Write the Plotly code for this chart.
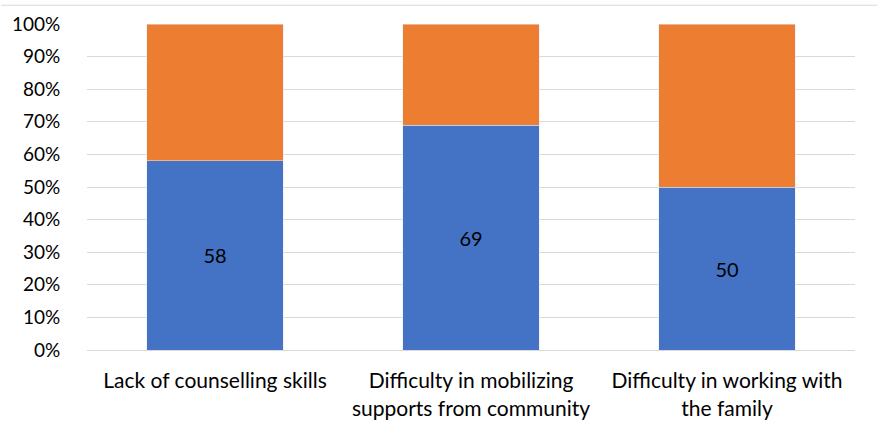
import plotly.graph_objects as go

categories = ["Lack of counselling skills",
              "Difficulty in mobilizing<br>supports from community",
              "Difficulty in working with<br>the family"]
yes_values = [58, 69, 50]
no_values = [42, 31, 50]
y_ticks = [0, 10, 20, 30, 40, 50, 60, 70, 80, 90, 100]
y_tick_labels = [f"{v}%" for v in y_ticks]

FONT = "Lato, Calibri, Arial, sans-serif"

fig = go.Figure()
fig.add_trace(go.Bar(
    x=categories, y=yes_values, marker_color="#4472C4", width=0.535,
    text=[str(v) for v in yes_values], textposition="inside",
    insidetextanchor="middle", textfont=dict(color="#000000", size=20, family=FONT),
    showlegend=False,
))
fig.add_trace(go.Bar(
    x=categories, y=no_values, marker_color="#ED7D31", width=0.535,
    showlegend=False,
))

fig.update_layout(
    barmode="stack",
    width=877, height=432,
    margin=dict(l=86, r=22, t=21, b=81),
    paper_bgcolor="white", plot_bgcolor="white",
    font=dict(family=FONT, size=20, color="#000000"),
    xaxis=dict(showgrid=False, showline=True, linecolor="#d9d9d9", linewidth=1,
               ticks="outside", ticklen=12, tickcolor="rgba(0,0,0,0)",
               tickfont=dict(size=21, family=FONT, color="#000000")),
    yaxis=dict(range=[0, 100], tickvals=y_ticks, ticktext=y_tick_labels,
               showgrid=True, gridcolor="#d9d9d9", gridwidth=1, zeroline=False,
               ticks="outside", ticklen=22, tickcolor="rgba(0,0,0,0)",
               tickfont=dict(size=19, family=FONT, color="#000000")),
)

# thin rule along the top edge of the chart
fig.add_shape(type="line", xref="paper", yref="paper",
              x0=-86 / 769, x1=1 + 22 / 769, y0=1 + 19 / 330, y1=1 + 19 / 330,
              line=dict(color="#d9d9d9", width=1))

fig.write_html("out.html")
